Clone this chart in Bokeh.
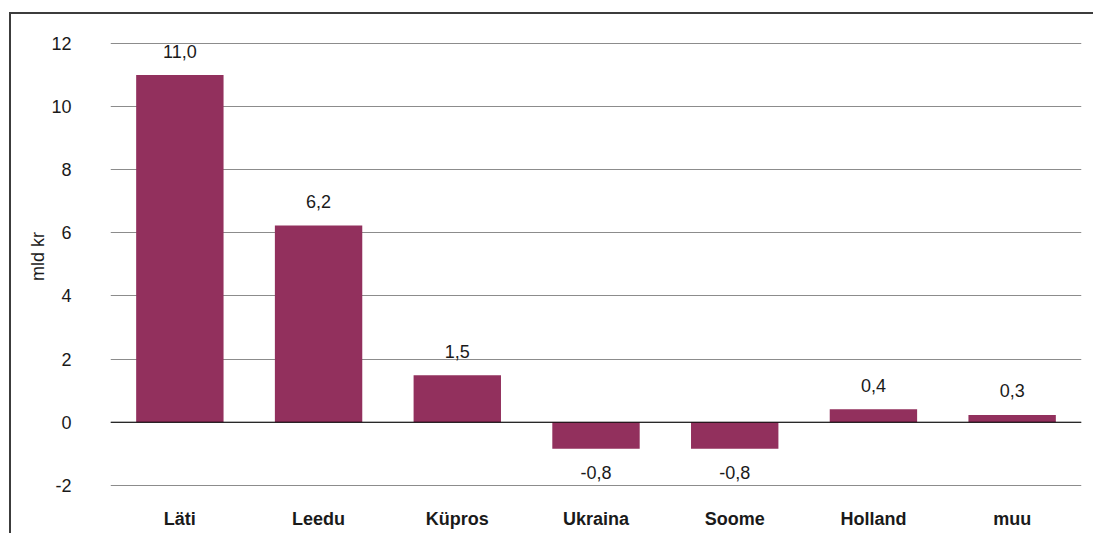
from bokeh.plotting import figure
from bokeh.models import Range1d, Span, FixedTicker, ColumnDataSource
from bokeh.core.properties import value
from bokeh.embed import file_html
from bokeh.resources import INLINE

categories = ["Läti", "Leedu", "Küpros", "Ukraina", "Soome", "Holland", "muu"]
values = [11.0, 6.23, 1.49, -0.84, -0.84, 0.41, 0.23]
labels = ["11,0", "6,2", "1,5", "-0,8", "-0,8", "0,4", "0,3"]
y_ticks = [-2, 0, 2, 4, 6, 8, 10, 12]

FONT = "Liberation Sans"
BAR = "#92305D"
TXT = "#1a1a1a"

p = figure(x_range=categories, y_range=Range1d(-2.1, 12.6),
           width=1084, height=521, output_backend="svg", toolbar_location=None,
           min_border_left=99, min_border_right=14, min_border_top=10, min_border_bottom=47,
           styles={"border-top": "2px solid #3c3c3c", "border-left": "2px solid #3c3c3c",
                   "margin-top": "12px", "margin-left": "9px"})
p.outline_line_color = None
p.background_fill_color = "white"
p.border_fill_color = "white"

src = ColumnDataSource(dict(cat=categories, val=values, lab=labels,
                            off=[-24 if v >= 0 else 24 for v in values]))
p.vbar(x="cat", top="val", bottom=0, width=0.63, source=src, fill_color=BAR, line_color=None)

p.text(x="cat", y="val", text="lab", y_offset="off", source=src,
       text_align="center", text_baseline="middle",
       text_font=value(FONT), text_font_size="18px", text_color=TXT)

p.add_layout(Span(location=0, dimension="width", line_color="black", line_width=1))

p.xgrid.grid_line_color = None
p.ygrid.grid_line_color = "#8c8c8c"
p.ygrid.grid_line_width = 1
p.yaxis.ticker = FixedTicker(ticks=y_ticks)
p.yaxis.major_label_overrides = {t: str(t) for t in y_ticks}

for ax in (p.xaxis[0], p.yaxis[0]):
    ax.axis_line_color = None
    ax.major_tick_line_color = None
    ax.minor_tick_line_color = None
    ax.major_label_text_font = FONT
    ax.major_label_text_font_size = "18px"
    ax.major_label_text_color = TXT

p.xaxis.major_label_text_font_style = "bold"
p.xaxis.major_label_standoff = 14
p.yaxis.major_label_standoff = 33
p.yaxis.axis_label = "mld kr"
p.yaxis.axis_label_text_font = FONT
p.yaxis.axis_label_text_font_size = "18px"
p.yaxis.axis_label_text_font_style = "normal"
p.yaxis.axis_label_text_color = TXT
p.yaxis.axis_label_standoff = 0

open("out.html", "w").write(file_html(p, INLINE))
